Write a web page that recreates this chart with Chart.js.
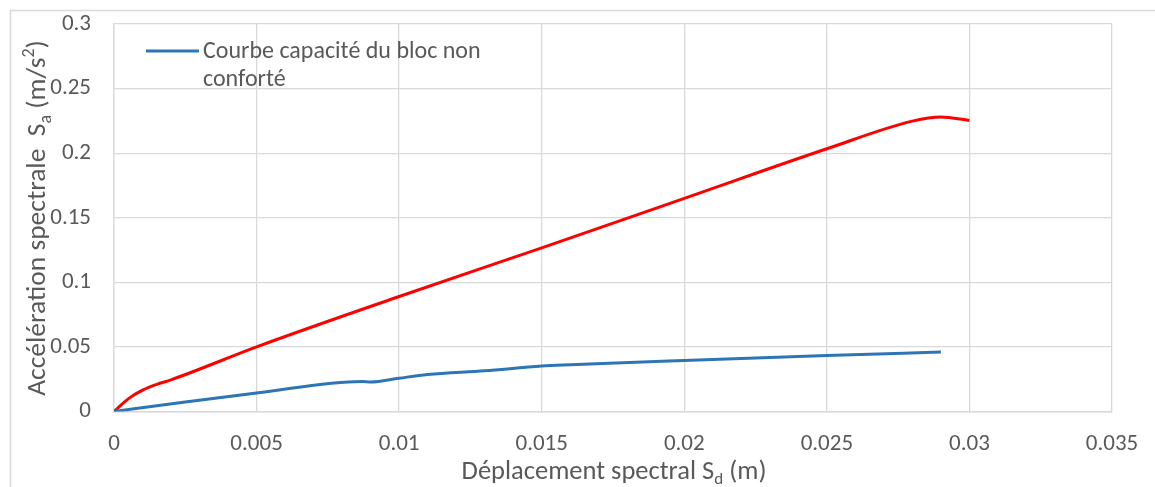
<!DOCTYPE html>
<html><head><meta charset="utf-8">
<script src="https://cdn.jsdelivr.net/npm/chart.js@4.4.1/dist/chart.umd.min.js"></script>
<style>html,body{margin:0;padding:0;background:#fff}#wrap{position:relative;width:1155px;height:487px}</style>
</head><body><div id="wrap"><canvas id="c" width="1155" height="487"></canvas></div>
<script>
// ---- data ----
const blueLabel = "Courbe capacité du bloc non conforté";
const blueX = [0, 0.0025, 0.005, 0.0087, 0.009, 0.010, 0.011, 0.013, 0.015, 0.016, 0.020, 0.025, 0.029];
const blueY = [0, 0.0074, 0.0143, 0.0233, 0.0228, 0.0258, 0.0286, 0.0315, 0.0352, 0.0362, 0.0395, 0.0433, 0.0460];
const redX = [0, 0.0005, 0.001, 0.0015, 0.002, 0.005, 0.010, 0.015, 0.020, 0.025, 0.028, 0.029, 0.030];
const redY = [0, 0.0098, 0.0165, 0.0210, 0.0245, 0.0500, 0.0890, 0.1267, 0.1650, 0.2034, 0.2248, 0.2280, 0.2253];
const xTicks = [0, 0.005, 0.01, 0.015, 0.02, 0.025, 0.03, 0.035];
const yTicks = [0, 0.05, 0.1, 0.15, 0.2, 0.25, 0.3];
const xTitle = [{t:"Déplacement spectral S"},{t:"d",sub:true},{t:" (m)"}];
const yTitle = [{t:"Accélération spectrale  S"},{t:"a",sub:true},{t:" (m/s"},{t:"2",sup:true},{t:")"}];

const FONT = 'Carlito, "Open Sans", sans-serif';
const TXT = '#595959';
const GRID = '#d9d9d9';

function toPts(xs, ys){ return xs.map((x,i)=>({x:x, y:ys[i]})); }

function drawRich(ctx, parts, cx, cy, size, rot){
  ctx.save();
  ctx.translate(cx, cy);
  ctx.rotate(rot);
  const small = Math.round(size*0.65);
  let w = 0;
  parts.forEach(p=>{ ctx.font = (p.sub||p.sup? small: size)+'px '+FONT; p.w = ctx.measureText(p.t).width; w += p.w; });
  let x = -w/2;
  ctx.fillStyle = TXT; ctx.textBaseline = 'middle'; ctx.textAlign='left';
  parts.forEach(p=>{
    ctx.font = (p.sub||p.sup? small: size)+'px '+FONT;
    const dy = p.sub ? size*0.3 : (p.sup ? -size*0.3 : 0);
    ctx.fillText(p.t, x, dy);
    x += p.w;
  });
  ctx.restore();
}

const decor = {
  id:'decor',
  beforeDraw(chart){
    const ctx = chart.ctx;
    ctx.save();
    ctx.strokeStyle = GRID; ctx.lineWidth = 1.5;
    ctx.beginPath(); ctx.moveTo(10.5, 500); ctx.lineTo(10.5, 10.5); ctx.lineTo(1200, 10.5); ctx.stroke();
    ctx.restore();
  },
  afterDraw(chart){
    const ctx = chart.ctx, a = chart.chartArea;
    // axis titles
    drawRich(ctx, xTitle, 614, 472, 26.5, 0);
    drawRich(ctx, yTitle, 38, 218, 27.5, -Math.PI/2);
    // legend (only first dataset shown in reference)
    const ds = chart.data.datasets[0];
    ctx.save();
    ctx.strokeStyle = ds.borderColor; ctx.lineWidth = 3;
    ctx.beginPath(); ctx.moveTo(a.left+32, a.top+27); ctx.lineTo(a.left+85, a.top+27); ctx.stroke();
    ctx.fillStyle = TXT; ctx.font = '24px '+FONT; ctx.textBaseline='middle'; ctx.textAlign='left';
    const words = ds.label.split(' ');
    ctx.fillText(words.slice(0,5).join(' '), a.left+89, a.top+28);
    ctx.fillText(words.slice(5).join(' '), a.left+89, a.top+56);
    ctx.restore();
  }
};

new Chart(document.getElementById('c'), {
  type:'line',
  data:{ datasets:[
    { label: blueLabel, data: toPts(blueX, blueY), borderColor:'#2e75b6', borderWidth:3, pointRadius:0, cubicInterpolationMode:'monotone', fill:false },
    { label: '', data: toPts(redX, redY), borderColor:'#ff0000', borderWidth:3, pointRadius:0, cubicInterpolationMode:'monotone', fill:false }
  ]},
  options:{
    responsive:false, animation:false, devicePixelRatio:1,
    layout:{ padding:{ left:0, right:43, top:24, bottom:0 } },
    plugins:{ legend:{display:false}, tooltip:{enabled:false}, title:{display:false} },
    scales:{
      x:{ type:'linear', min:0, max:0.035,
        afterBuildTicks(s){ s.ticks = xTicks.map(v=>({value:v})); },
        afterFit(s){ s.height = 75.5; s.paddingLeft = 0; s.paddingRight = 0; },
        grid:{ color:GRID, lineWidth:1.3, drawTicks:false },
        border:{ color:GRID, width:1.5 },
        ticks:{ color:TXT, font:{family:FONT, size:23}, padding:19, maxRotation:0, autoSkip:false,
          callback:(v)=>String(+v.toFixed(3)) }
      },
      y:{ type:'linear', min:0, max:0.3,
        afterBuildTicks(s){ s.ticks = yTicks.map(v=>({value:v})); },
        afterFit(s){ s.width = 114; s.paddingTop = 0; s.paddingBottom = 0; },
        grid:{ color:GRID, lineWidth:1.3, drawTicks:false },
        border:{ color:GRID, width:1.3 },
        ticks:{ color:TXT, font:{family:FONT, size:23}, padding:23,
          callback:(v)=>String(+v.toFixed(2)) }
      }
    }
  },
  plugins:[decor]
});
</script></body></html>
